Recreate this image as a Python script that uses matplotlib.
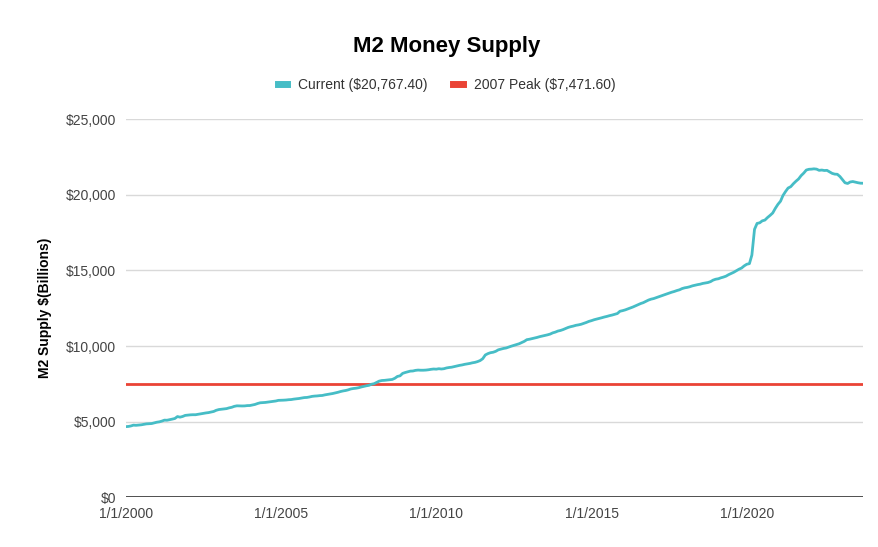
import numpy as np
import pandas as pd
import matplotlib
matplotlib.use('Agg')
import matplotlib.pyplot as plt
import matplotlib.dates as mdates
from matplotlib.ticker import FuncFormatter

plt.rcParams['font.family'] = ['Liberation Sans', 'DejaVu Sans']

# monthly M2 values, billions, Jan 2000 .. Oct 2023
m2_by_year = {
    2000: [4668, 4681, 4712, 4767, 4756, 4772, 4789, 4818, 4851, 4862, 4873, 4914],
    2001: [4961, 4988, 5034, 5098, 5092, 5127, 5165, 5207, 5335, 5296, 5342, 5412],
    2002: [5432, 5449, 5457, 5456, 5483, 5505, 5544, 5575, 5597, 5637, 5673, 5750],
    2003: [5799, 5821, 5835, 5860, 5910, 5948, 6010, 6045, 6038, 6036, 6040, 6061],
    2004: [6065, 6100, 6137, 6200, 6246, 6256, 6270, 6294, 6319, 6335, 6365, 6407],
    2005: [6410, 6420, 6430, 6450, 6460, 6490, 6510, 6530, 6560, 6590, 6600, 6630],
    2006: [6670, 6690, 6700, 6720, 6730, 6770, 6800, 6830, 6860, 6900, 6940, 6990],
    2007: [7030, 7060, 7100, 7160, 7190, 7210, 7240, 7290, 7330, 7370, 7400, 7472],
    2008: [7510, 7600, 7680, 7720, 7730, 7750, 7770, 7790, 7870, 7990, 8030, 8190],
    2009: [8250, 8300, 8340, 8350, 8390, 8410, 8400, 8400, 8410, 8430, 8460, 8480],
    2010: [8470, 8500, 8480, 8500, 8550, 8580, 8600, 8640, 8680, 8720, 8750, 8790],
    2011: [8820, 8850, 8890, 8920, 8970, 9040, 9160, 9410, 9500, 9560, 9590, 9650],
    2012: [9750, 9800, 9840, 9870, 9930, 9990, 10040, 10090, 10150, 10230, 10310, 10420],
    2013: [10450, 10490, 10530, 10570, 10620, 10660, 10700, 10740, 10790, 10870, 10920, 10990],
    2014: [11030, 11090, 11160, 11230, 11280, 11320, 11370, 11400, 11440, 11500, 11560, 11630],
    2015: [11680, 11740, 11780, 11830, 11870, 11920, 11960, 12010, 12050, 12100, 12150, 12300],
    2016: [12340, 12390, 12450, 12520, 12580, 12660, 12740, 12810, 12870, 12950, 13040, 13100],
    2017: [13140, 13200, 13260, 13320, 13380, 13440, 13500, 13560, 13610, 13670, 13720, 13800],
    2018: [13850, 13880, 13920, 13980, 14020, 14060, 14090, 14140, 14170, 14200, 14260, 14360],
    2019: [14420, 14450, 14510, 14560, 14620, 14720, 14800, 14880, 14980, 15080, 15160, 15300],
    2020: [15410, 15450, 16020, 17720, 18110, 18150, 18280, 18330, 18500, 18640, 18800, 19100],
    2021: [19370, 19580, 19950, 20220, 20450, 20540, 20730, 20900, 21050, 21270, 21440, 21640],
    2022: [21690, 21700, 21720, 21700, 21620, 21640, 21610, 21620, 21520, 21420, 21370, 21360],
    2023: [21210, 21000, 20800, 20750, 20850, 20880, 20840, 20800, 20770, 20767.4],
}
m2 = [v for yr in sorted(m2_by_year) for v in m2_by_year[yr]]
dates = pd.date_range('2000-01-01', periods=len(m2), freq='MS')
peak_2007 = 7471.60
current = 20767.40

teal = '#46bdc6'
red = '#ea4335'

fig = plt.figure(figsize=(8.79, 5.47), dpi=100)
ax = fig.add_axes([0.143, 0.091, 0.839, 0.691])

ax.plot(dates, m2, color=teal, lw=2, label=f'Current (${current:,.2f})', zorder=3)
ax.plot(dates, [peak_2007] * len(dates), color=red, lw=2,
        label=f'2007 Peak (${peak_2007:,.2f})', zorder=2)

ax.set_xlim(dates[0], dates[-1])
ax.set_ylim(0, 25000)
ax.set_yticks(np.arange(0, 25001, 5000))
ax.yaxis.set_major_formatter(FuncFormatter(lambda v, p: f'${v:,.0f}'))
ax.set_xticks(pd.to_datetime(['2000-01-01', '2005-01-01', '2010-01-01',
                              '2015-01-01', '2020-01-01']))
ax.xaxis.set_major_formatter(FuncFormatter(
    lambda v, p: f'1/1/{mdates.num2date(v).year}'))

ax.grid(axis='y', color='#d9d9d9', lw=1)
ax.axhline(0, color='#333333', lw=1.2, zorder=4)
for s in ax.spines.values():
    s.set_visible(False)
ax.tick_params(length=0, labelsize=10, colors='#444444')
ax.tick_params(axis='y', pad=7)
ax.tick_params(axis='x', pad=7)

ax.set_ylabel('M2 Supply $(Billions)', fontsize=10, fontweight='bold', labelpad=10)
fig.text(0.508, 0.915, 'M2 Money Supply', ha='center', va='center',
         fontsize=16, fontweight='bold')

leg = fig.legend(loc='center', bbox_to_anchor=(0.508, 0.845), ncol=2, frameon=False,
                 fontsize=10, handlelength=0.7, handleheight=0.5, columnspacing=1.8,
                 handletextpad=0.8, labelcolor='#333333')
for h in leg.get_lines():
    h.set_linewidth(5)

fig.savefig('out.png', dpi=100)
